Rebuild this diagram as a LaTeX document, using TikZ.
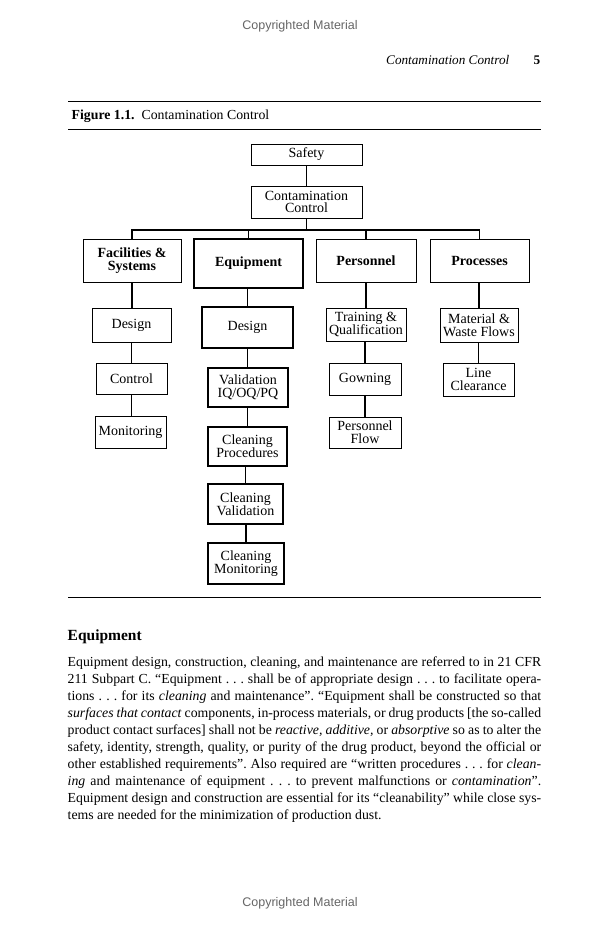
\documentclass[tikz,border=0pt]{standalone}
\usepackage{fontspec}
\setmainfont{Liberation Serif}
\newfontfamily\cpfont{Liberation Sans}
\newcommand\BX[7]{%
  \pgfmathsetmacro\myBW{#5-#3}\pgfmathsetmacro\myBH{#6-#4}%
  \node[#1, minimum width=\myBW pt, minimum height=\myBH pt] (#2) at ({(#3+#5)/2},{(#4+#6)/2}) {#7};}
\newcommand\PL[1]{\hbox to 473.5pt{#1}}
\begin{document}
\begin{tikzpicture}[x=1pt,y=-1pt,
  box/.style={draw, line width=0.9pt, inner sep=0pt, align=center, font=\fontsize{14}{12.8}\selectfont},
  tbox/.style={box, line width=1.8pt},
  hbox/.style={box, font=\fontsize{14}{12.8}\selectfont\bfseries},
  thbox/.style={hbox, line width=1.8pt},
  conn/.style={line width=1.9pt},
  pagerule/.style={line width=1pt},
  txt/.style={inner sep=0pt},
  cpy/.style={txt, anchor=base, text=black!60, font=\cpfont\fontsize{12.5}{14}\selectfont}]
\useasboundingbox (0,0) rectangle (600,929);
\fill[white] (0,0) rectangle (600,929);

% page furniture
\node[cpy] (cptop) at (300,29) {Copyrighted Material};
\node[cpy] (cpbot) at (300,906) {Copyrighted Material};
\node[txt, anchor=base east, font=\fontsize{13.2}{15}\selectfont\itshape] (runhead) at (509.5,64) {Contamination Control};
\node[txt, anchor=base east, font=\fontsize{13.2}{15}\selectfont\bfseries] (pageno) at (540.5,64) {5};
\draw[pagerule] (68,101.5) -- (541,101.5);
\node[txt, anchor=base west, font=\fontsize{13.8}{15}\selectfont] (caption) at (71.5,119.5) {\textbf{Figure 1.1.}\ \ Contamination Control};
\draw[pagerule] (68,129.3) -- (541,129.3);
\draw[pagerule] (68,597.3) -- (541,597.3);

% boxes
\BX{box}{safety}{251}{144}{362}{165}{Safety}
\BX{box}{cc}{251}{186}{362}{218}{Contamination\\Control}
\BX{hbox}{fac}{83}{239}{181}{282}{Facilities \&\\Systems}
\BX{thbox}{eq}{194}{239}{303}{288}{Equipment}
\BX{hbox}{pers}{316}{239}{416}{282}{Personnel}
\BX{hbox}{proc}{430}{239}{529}{282}{Processes}

\BX{box}{facd}{92}{308}{171}{342}{Design}
\BX{box}{facc}{96}{363}{167}{394}{Control}
\BX{box}{facm}{95}{416}{166}{448}{Monitoring}

\BX{tbox}{eqd}{202}{307}{293}{348}{Design}
\BX{tbox}{eqv}{208}{368}{288}{407}{Validation\\IQ/OQ/PQ}
\BX{tbox}{eqcp}{208}{427}{287}{466}{Cleaning\\Procedures}
\BX{tbox}{eqcv}{208}{484}{283}{524}{Cleaning\\Validation}
\BX{tbox}{eqcm}{208}{543}{284}{584}{Cleaning\\Monitoring}

\BX{box}{perst}{326}{308}{406}{341}{Training \&\\Qualification}
\BX{box}{persg}{329}{363}{401}{395}{Gowning}
\BX{box}{persf}{329}{417}{401}{448}{Personnel\\Flow}

\BX{box}{procm}{440}{308}{518}{342}{Material \&\\Waste Flows}
\BX{box}{procl}{443}{363}{514}{396}{Line\\Clearance}

% connectors
\coordinate (bus) at (0,230);
\draw[conn] (safety) -- (cc);
\draw[conn] (cc.south) -- (cc.south |- bus);
\draw[conn] (fac.north) |- (proc.north |- bus) -- (proc.north);
\draw[conn] (eq.north) -- (eq.north |- bus);
\draw[conn] (pers.north) -- (pers.north |- bus);

\draw[conn] (fac.south) -- (fac.south |- facd.north);
\draw[conn] (facd.south) -- (facd.south |- facc.north);
\draw[conn] (facc.south) -- (facc.south |- facm.north);

\draw[conn] (eqd.north) -- (eqd.north |- eq.south);
\draw[conn] (eqd.south) -- (eqd.south |- eqv.north);
\draw[conn] (eqcp.north) -- (eqcp.north |- eqv.south);
\draw[conn] (eqcv.north) -- (eqcv.north |- eqcp.south);
\draw[conn] (eqcm.north) -- (eqcm.north |- eqcv.south);

\draw[conn] (perst.north) -- (perst.north |- pers.south);
\draw[conn] (persg.north) -- (persg.north |- perst.south);
\draw[conn] (persf.north) -- (persf.north |- persg.south);

\draw[conn] (procm.north) -- (procm.north |- proc.south);
\draw[conn] (procl.north) -- (procl.north |- procm.south);

% section text
\node[txt, anchor=base west, font=\fontsize{15.5}{17}\selectfont\bfseries] (heading) at (67.5,640.7) {Equipment};
\node[txt, anchor=base west] (para) at (67.5,666.7) {\parbox[t]{473.5pt}{\fontsize{13.8}{17}\selectfont\frenchspacing
\PL{Equipment design, construction, cleaning, and maintenance are referred to in 21 CFR}
\PL{211 Subpart C. “Equipment . . . shall be of appropriate design . . . to facilitate opera-}
\PL{tions . . . for its \textit{cleaning} and maintenance”. “Equipment shall be constructed so that}
\PL{\textit{surfaces that contact} components, in-process materials, or drug products [the so-called}
\PL{product contact surfaces] shall not be \textit{reactive, additive,} or \textit{absorptive} so as to alter the}
\PL{safety, identity, strength, quality, or purity of the drug product, beyond the official or}
\PL{other established requirements”. Also required are “written procedures . . . for \textit{clean-}}
\PL{\textit{ing} and maintenance of equipment . . . to prevent malfunctions or \textit{contamination}”.}
\PL{Equipment design and construction are essential for its “cleanability” while close sys-}
\hbox{tems are needed for the minimization of production dust.}}};
\end{tikzpicture}
\end{document}
